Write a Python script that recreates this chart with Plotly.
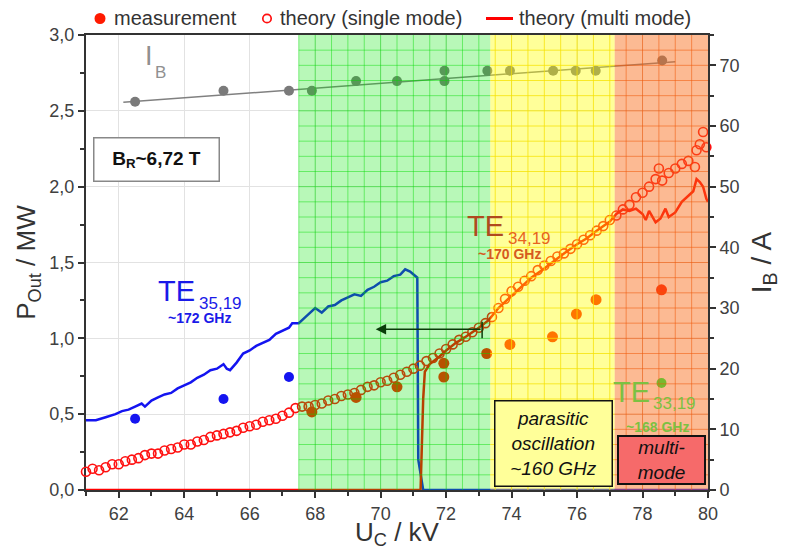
import numpy as np
import plotly.graph_objects as go

# ---------------- data ----------------
x_tick_vals = [62, 64, 66, 68, 70, 72, 74, 76, 78, 80]
x_tick_text = ["62", "64", "66", "68", "70", "72", "74", "76", "78", "80"]
y_tick_vals = [0, 0.5, 1.0, 1.5, 2.0, 2.5, 3.0]
y_tick_text = ["0,0", "0,5", "1,0", "1,5", "2,0", "2,5", "3,0"]
y2_tick_vals = [0, 10, 20, 30, 40, 50, 60, 70]
y2_tick_text = ["0", "10", "20", "30", "40", "50", "60", "70"]

# theory (single mode) TE34,19 - open circles
single_x = [61.0, 61.2, 61.4, 61.6, 61.8, 62.0, 62.2, 62.4, 62.6, 62.8,
            63.0, 63.2, 63.4, 63.6, 63.8, 64.0, 64.2, 64.4, 64.6, 64.8,
            65.0, 65.2, 65.4, 65.6, 65.8, 66.0, 66.2, 66.4, 66.6, 66.8,
            67.0, 67.2, 67.4, 67.6, 67.8, 68.0, 68.2, 68.4, 68.6, 68.8,
            69.0, 69.2, 69.4, 69.6, 69.8, 70.0, 70.2, 70.4, 70.6, 70.8,
            71.0, 71.2, 71.4, 71.6, 71.8, 72.0, 72.2, 72.4, 72.6, 72.8,
            73.0, 73.2, 73.4, 73.6, 73.8, 74.0, 74.2, 74.4, 74.6, 74.8,
            75.0, 75.2, 75.4, 75.6, 75.8, 76.0, 76.2, 76.4, 76.6, 76.8,
            77.0, 77.2, 77.4, 77.6, 77.8, 78.0, 78.2, 78.4, 78.5, 78.6,
            78.8, 79.0, 79.2, 79.4, 79.6, 79.65, 79.75, 79.85, 79.95]
single_y = [0.12, 0.14, 0.13, 0.15, 0.17, 0.17, 0.19, 0.20, 0.21, 0.23,
            0.24, 0.24, 0.26, 0.27, 0.28, 0.30, 0.30, 0.32, 0.33, 0.35,
            0.36, 0.37, 0.38, 0.39, 0.41, 0.42, 0.43, 0.45, 0.46, 0.47,
            0.49, 0.51, 0.54, 0.55, 0.55, 0.56, 0.57, 0.59, 0.60, 0.62,
            0.63, 0.64, 0.66, 0.68, 0.69, 0.71, 0.72, 0.74, 0.76, 0.78,
            0.80, 0.82, 0.85, 0.87, 0.90, 0.93, 0.96, 0.99, 1.01, 1.04,
            1.07, 1.10, 1.14, 1.20, 1.26, 1.31, 1.34, 1.38, 1.41, 1.45,
            1.48, 1.51, 1.54, 1.56, 1.59, 1.62, 1.65, 1.68, 1.71, 1.74,
            1.78, 1.81, 1.85, 1.88, 1.93, 1.96, 2.00, 2.05, 2.12, 2.04,
            2.09, 2.12, 2.15, 2.17, 2.13, 2.24, 2.28, 2.36, 2.26]

# theory (multi mode) TE34,19 - red line
multi_x = [61.0, 71.22, 71.26, 71.3, 71.35, 71.5, 71.8, 72.0, 72.3, 72.6,
           73.0, 73.3, 73.6, 74.0, 74.3, 74.6, 75.0, 75.3, 75.6, 76.0,
           76.3, 76.6, 77.0, 77.2, 77.4, 77.6, 77.8, 78.0, 78.1, 78.2,
           78.3, 78.4, 78.55, 78.7, 78.8, 79.0, 79.2, 79.4, 79.55, 79.65,
           79.75, 79.85, 79.95, 80.0]
multi_y = [0.0, 0.0, 0.3, 0.6, 0.78, 0.83, 0.88, 0.92, 0.97, 1.01,
           1.07, 1.12, 1.20, 1.28, 1.34, 1.40, 1.46, 1.51, 1.56, 1.62,
           1.66, 1.71, 1.77, 1.82, 1.85, 1.84, 1.855, 1.82, 1.78, 1.84,
           1.80, 1.765, 1.79, 1.855, 1.80, 1.83, 1.90, 1.94, 1.97, 2.05,
           2.03, 2.00, 1.92, 1.90]

# theory (multi mode) TE35,19 - blue line
blue_x = [61.0, 61.3, 61.6, 61.9, 62.1, 62.3, 62.5, 62.7, 62.8, 63.0,
          63.2, 63.4, 63.6, 63.8, 64.0, 64.2, 64.4, 64.6, 64.8, 65.0,
          65.2, 65.3, 65.4, 65.6, 65.8, 66.0, 66.2, 66.4, 66.6, 66.8,
          67.0, 67.2, 67.3, 67.5, 67.7, 67.9, 68.0, 68.2, 68.4, 68.6,
          68.8, 69.0, 69.2, 69.4, 69.6, 69.8, 70.0, 70.2, 70.4, 70.6,
          70.75, 70.9, 71.0, 71.12, 71.15, 71.3, 80.0]
blue_y = [0.46, 0.46, 0.48, 0.50, 0.52, 0.53, 0.55, 0.57, 0.55, 0.59,
          0.61, 0.63, 0.64, 0.67, 0.69, 0.71, 0.74, 0.76, 0.79, 0.80,
          0.83, 0.80, 0.79, 0.84, 0.90, 0.92, 0.95, 0.97, 0.99, 1.03,
          1.05, 1.07, 1.10, 1.10, 1.14, 1.18, 1.20, 1.17, 1.21, 1.22,
          1.25, 1.27, 1.29, 1.28, 1.32, 1.34, 1.37, 1.38, 1.41, 1.42,
          1.455, 1.44, 1.42, 1.40, 0.20, 0.0, 0.0]

# measurements
meas_x = [67.9, 69.25, 70.5, 71.93, 71.93, 73.24, 73.95, 75.25, 75.98, 76.58, 78.58]
meas_y = [0.515, 0.61, 0.68, 0.745, 0.835, 0.90, 0.96, 1.01, 1.16, 1.255, 1.32]
meas35_x = [62.5, 65.2, 67.2]
meas35_y = [0.47, 0.60, 0.745]
meas33_x = [78.58]
meas33_y = [0.706]

# beam current I_B (right axis)
ib_x = [62.5, 65.2, 67.2, 67.9, 69.25, 70.5, 71.95, 71.95, 73.26, 73.95, 75.27, 75.96, 76.57, 78.6]
ib_y = [64.0, 65.8, 65.8, 65.8, 67.4, 67.4, 69.1, 67.4, 69.1, 69.1, 69.1, 69.1, 69.1, 70.8]
ib_fit_x = [62.14, 79.0]
ib_fit_y = [63.9, 70.6]

# colored operating regions
region_x0 = [67.5, 73.35, 77.15]
region_x1 = [73.35, 77.15, 80.0]
region_fill = ["rgba(0,230,0,0.28)", "rgba(255,255,0,0.40)", "rgba(248,110,30,0.48)"]
region_grid = ["rgba(0,220,0,0.45)", "rgba(245,225,0,0.75)", "rgba(240,90,10,0.55)"]

# legend entries (manual legend, like the reference)
legend_labels = ["measurement", "theory (single mode)", "theory (multi mode)"]

FONT = "Liberation Sans, Arial, sans-serif"
TXT = "#404040"

# layout geometry (figure pixels; the page adds an 8 px body margin)
OFF = 8
W, H = 789 - 2 * OFF, 558 - 2 * OFF
ML, MT = 86 - OFF, 35 - OFF
PW, PH = 622, 455
MR, MB = W - ML - PW, H - MT - PH


def px_x(p):  # page pixel -> paper x
    return (p - OFF - ML) / PW


def px_y(p):  # page pixel -> paper y
    return (MT + PH - (p - OFF)) / PH


fig = go.Figure()

fig.add_trace(go.Scatter(x=blue_x, y=blue_y, mode="lines",
                         line=dict(color="#1414f0", width=2.5), showlegend=False))
fig.add_trace(go.Scatter(x=single_x, y=single_y, mode="markers", name=legend_labels[1],
                         marker=dict(symbol="circle-open", size=9, color="#ff1010",
                                     line=dict(width=1.6, color="#ff1010")),
                         cliponaxis=False, showlegend=False))
fig.add_trace(go.Scatter(x=multi_x, y=multi_y, mode="lines", name=legend_labels[2],
                         line=dict(color="#ff0000", width=2.5), showlegend=False))
fig.add_trace(go.Scatter(x=meas_x, y=meas_y, mode="markers", name=legend_labels[0],
                         marker=dict(size=11, color="#ff1a00"), showlegend=False))
fig.add_trace(go.Scatter(x=meas35_x, y=meas35_y, mode="markers",
                         marker=dict(size=10, color="#1414f0"), showlegend=False))
fig.add_trace(go.Scatter(x=meas33_x, y=meas33_y, mode="markers",
                         marker=dict(size=10, color="#00ff40"), showlegend=False))
fig.add_trace(go.Scatter(x=ib_fit_x, y=ib_fit_y, mode="lines", yaxis="y2",
                         line=dict(color="#808080", width=1.5), showlegend=False))
fig.add_trace(go.Scatter(x=ib_x, y=ib_y, mode="markers", yaxis="y2",
                         marker=dict(size=10, color="#7a7a7a"), showlegend=False))

# region overlays (drawn above the data, semi transparent)
shapes = []
for x0, x1, fc, gc in zip(region_x0, region_x1, region_fill, region_grid):
    shapes.append(dict(type="rect", xref="x", yref="y", x0=x0, x1=x1, y0=0, y1=3.0,
                       fillcolor=fc, line=dict(width=0), layer="above"))
    vx = np.arange(np.ceil(x0 * 2) / 2, x1 - 1e-6, 0.5)
    hy = np.arange(0.1, 3.0 - 1e-6, 0.1)
    path = ""
    for v in vx:
        path += f"M{v},0 L{v},3.0 "
    for h in hy:
        path += f"M{x0},{h:.2f} L{x1},{h:.2f} "
    shapes.append(dict(type="path", xref="x", yref="y", path=path,
                       line=dict(color=gc, width=1), layer="above"))
# little stop mark at arrow start
shapes.append(dict(type="line", xref="x", yref="y", x0=73.1, x1=73.1, y0=1.0, y1=1.11,
                   line=dict(color="#0a3c0a", width=1.5), layer="above"))

# manual legend symbols
LY = 18.5
shapes.append(dict(type="circle", xref="paper", yref="paper",
                   x0=px_x(100 - 5.5), x1=px_x(100 + 5.5), y0=px_y(LY + 5.5), y1=px_y(LY - 5.5),
                   fillcolor="#ff1a00", line=dict(width=0)))
shapes.append(dict(type="circle", xref="paper", yref="paper",
                   x0=px_x(267 - 4.2), x1=px_x(267 + 4.2), y0=px_y(LY + 4.2), y1=px_y(LY - 4.2),
                   fillcolor="white", line=dict(width=1.7, color="#ff1010")))
shapes.append(dict(type="line", xref="paper", yref="paper",
                   x0=px_x(486), x1=px_x(513), y0=px_y(LY), y1=px_y(LY),
                   line=dict(width=3, color="#ff0000")))

annotations = [
    # arrow
    dict(x=69.85, y=1.06, ax=73.1, ay=1.06, xref="x", yref="y", axref="x", ayref="y",
         text="", showarrow=True, arrowhead=2, arrowsize=1.3, arrowwidth=1.6,
         arrowcolor="#0a3c0a"),
    # TE35,19
    dict(x=63.75, y=1.31, xref="x", yref="y", text="TE", showarrow=False,
         font=dict(family=FONT, size=29, color="#1a1ae8")),
    dict(x=65.12, y=1.228, xref="x", yref="y", text="35,19", showarrow=False,
         font=dict(family=FONT, size=17, color="#1a1ae8")),
    dict(x=64.48, y=1.134, xref="x", yref="y", text="<b>~172 GHz</b>", showarrow=False,
         font=dict(family=FONT, size=14, color="#1a1ae8")),
    # TE34,19
    dict(x=73.19, y=1.741, xref="x", yref="y", text="TE", showarrow=False,
         font=dict(family=FONT, size=29, color="#b04a1e")),
    dict(x=74.55, y=1.658, xref="x", yref="y", text="34,19", showarrow=False,
         font=dict(family=FONT, size=17, color="#e8641e")),
    dict(x=73.95, y=1.556, xref="x", yref="y", text="<b>~170 GHz</b>", showarrow=False,
         font=dict(family=FONT, size=14, color="#d65a1e")),
    # TE33,19
    dict(x=77.65, y=0.646, xref="x", yref="y", text="TE", showarrow=False,
         font=dict(family=FONT, size=29, color="#7cc142")),
    dict(x=78.98, y=0.570, xref="x", yref="y", text="33,19", showarrow=False,
         font=dict(family=FONT, size=17, color="#7cc142")),
    dict(x=78.47, y=0.415, xref="x", yref="y", text="<b>~168 GHz</b>", showarrow=False,
         font=dict(family=FONT, size=14, color="#7cc142")),
    # I_B label
    dict(x=62.92, y=2.86, xref="x", yref="y", text="I", showarrow=False,
         font=dict(family=FONT, size=27, color="#909090")),
    dict(x=63.28, y=2.75, xref="x", yref="y", text="B", showarrow=False,
         font=dict(family=FONT, size=17, color="#909090")),
    # B_R box
    dict(x=63.15, y=2.176, xref="x", yref="y", text="<b>B<sub>R</sub>~6,72 T</b>",
         showarrow=False, font=dict(family=FONT, size=19, color="#111111"),
         bgcolor="white", bordercolor="#888888", borderwidth=1.5, width=122, height=40,
         borderpad=1),
    # parasitic oscillation box
    dict(x=75.28, y=0.3066, xref="x", yref="y",
         text="<i>parasitic<br>oscillation<br>~160 GHz</i>", showarrow=False,
         font=dict(family=FONT, size=19, color="#111111"),
         bgcolor="#ffff99", bordercolor="#111111", borderwidth=1.5, width=116, height=84,
         borderpad=0),
    # multi-mode box
    dict(x=78.59, y=0.198, xref="x", yref="y", text="<i>multi-<br>mode</i>",
         showarrow=False, font=dict(family=FONT, size=19, color="#111111"),
         bgcolor="#f66a6a", bordercolor="#111111", borderwidth=2, width=85, height=46,
         borderpad=0),
]
# manual legend texts
for lx, lab in zip([112, 278, 517], legend_labels):
    annotations.append(dict(x=px_x(lx), y=px_y(LY), xref="paper", yref="paper",
                            text=lab, showarrow=False, xanchor="left", yanchor="middle",
                            font=dict(family=FONT, size=20, color="#333333")))

axis_common = dict(showline=True, linecolor="#333333", linewidth=2, ticks="outside",
                   ticklen=6, tickwidth=1.5, tickcolor="#333333", automargin=False,
                   tickfont=dict(family=FONT, size=18, color=TXT), zeroline=False)

fig.update_layout(
    width=W, height=H, autosize=False,
    margin=dict(l=ML, r=MR, t=MT, b=MB, autoexpand=False),
    paper_bgcolor="white", plot_bgcolor="white",
    font=dict(family=FONT, color=TXT),
    shapes=shapes, annotations=annotations,
    showlegend=False,
    xaxis=dict(range=[61, 80], tickvals=x_tick_vals, ticktext=x_tick_text,
               showgrid=True, gridcolor="#e2e2e2", gridwidth=1, mirror=True,
               minor=dict(dtick=1, tick0=61, ticks="outside", ticklen=4, showgrid=False,
                          tickcolor="#333333"),
               title=dict(text="U<sub>C</sub> / kV", standoff=4,
                          font=dict(family=FONT, size=26, color="#333333")),
               layer="below traces", **axis_common),
    yaxis=dict(range=[0, 3.0], tickvals=y_tick_vals, ticktext=y_tick_text,
               showgrid=True, gridcolor="#e2e2e2", gridwidth=1,
               minor=dict(dtick=0.25, tick0=0, ticks="outside", ticklen=4, showgrid=False,
                          tickcolor="#333333"),
               title=dict(text="P<sub>Out</sub> / MW", standoff=6,
                          font=dict(family=FONT, size=26, color="#333333")),
               layer="below traces", **axis_common),
    yaxis2=dict(range=[0, 75], overlaying="y", side="right", tickvals=y2_tick_vals,
                ticktext=y2_tick_text, showgrid=False,
                minor=dict(dtick=5, tick0=0, ticks="outside", ticklen=4, showgrid=False,
                           tickcolor="#333333"),
                title=dict(text="I<sub>B</sub> / A", standoff=20,
                           font=dict(family=FONT, size=28, color="#333333")),
                **axis_common),
)

fig.write_html("out.html")
